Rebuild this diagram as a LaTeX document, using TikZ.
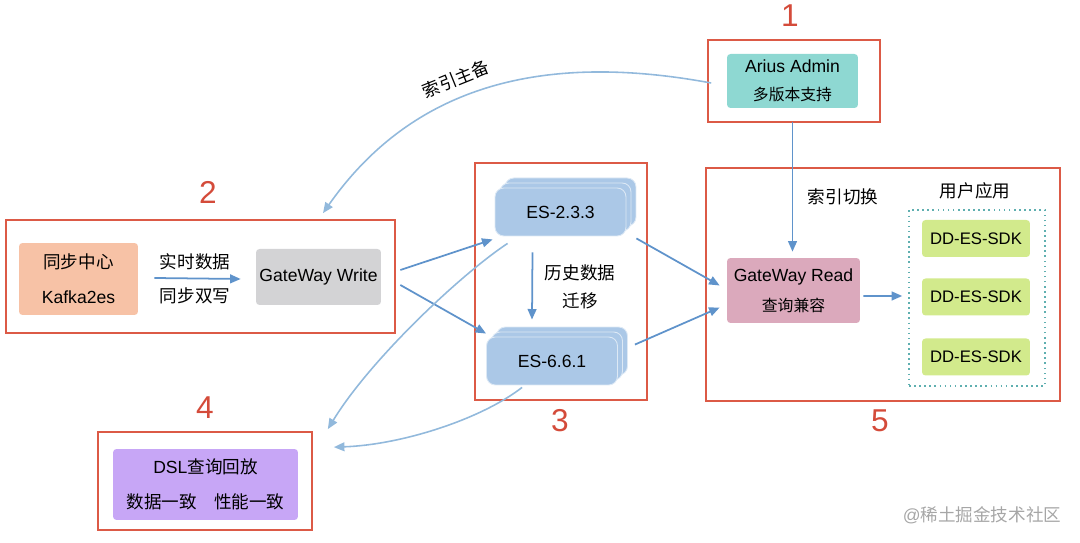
\documentclass[tikz,border=0pt]{standalone}
\usepackage{fontspec}
\setmainfont{Liberation Sans}
\newfontfamily\cjk{Noto Sans CJK SC}
\usetikzlibrary{arrows.meta,shadows}

\definecolor{framered}{HTML}{DC5A46}
\definecolor{numred}{HTML}{D44B3A}
\definecolor{tealbox}{HTML}{8ED8D2}
\definecolor{orangebox}{HTML}{F7C2A6}
\definecolor{graybox}{HTML}{D3D3D5}
\definecolor{esblue}{HTML}{ABC8E7}
\definecolor{pinkbox}{HTML}{DBA9BC}
\definecolor{greenbox}{HTML}{D2EA8C}
\definecolor{purplebox}{HTML}{C7A6F6}
\definecolor{arrowblue}{HTML}{5F93CB}
\definecolor{curveblue}{HTML}{92B9DC}
\definecolor{dotteal}{HTML}{5FAFB0}

\begin{document}
\begin{tikzpicture}[
  x=0.02cm, y=-0.02cm,
  every node/.style={font=\fontsize{10}{12}\selectfont, inner sep=0pt},
  frame/.style={draw=framered, line width=1pt},
  num/.style={text=numred, font=\fontsize{18}{20}\selectfont},
  box/.style={rounded corners=2pt, align=center},
  esnode/.style={fill=esblue, draw=white!60!esblue, line width=0.5pt, rounded corners=5pt,
    minimum width=2.62cm, minimum height=0.96cm,
    double copy shadow={shadow xshift=0.1cm, shadow yshift=0.1cm}},
  sdk/.style={box, fill=greenbox, minimum width=2.16cm, minimum height=0.74cm,
    font=\fontsize{9.5}{11}\selectfont},
  arr/.style={draw=arrowblue, line width=1pt, -{Triangle[length=6pt,width=5pt]}},
  curve/.style={draw=curveblue, line width=0.9pt, -{Triangle[length=6pt,width=5pt]}}
]
\useasboundingbox (0,0) rectangle (1080,543);

% Frames and their numbers
\node[frame, minimum width=3.44cm, minimum height=1.64cm] (f1) at (794,81) {};
\node[frame, minimum width=7.78cm, minimum height=2.26cm] (f2) at (200.5,276.5) {};
\node[frame, minimum width=3.44cm, minimum height=4.74cm] (f3) at (561,281.5) {};
\node[frame, minimum width=4.28cm, minimum height=1.96cm] (f4) at (205,481) {};
\node[frame, minimum width=7.08cm, minimum height=4.66cm] (f5) at (883,284.5) {};

\node[num] (n1) at (790,16) {1};
\node[num] (n2) at (208,192) {2};
\node[num] (n3) at (560,421) {3};
\node[num] (n4) at (205,408) {4};
\node[num] (n5) at (880,421) {5};

% 1: admin
\node[box, fill=tealbox, minimum width=2.62cm, minimum height=1.08cm] (admin) at (792.5,81)
  {Arius Admin\\[4pt]{\cjk\small 多版本支持}};

% 2: write side
\node[box, fill=orangebox, minimum width=2.38cm, minimum height=1.44cm] (kafka) at (78.5,279)
  {{\cjk 同步中心}\\[8pt]Kafka2es};
\node[box, fill=graybox, minimum width=2.5cm, minimum height=1.12cm] (gwwrite) at (318.5,277)
  {GateWay Write};
\node (rt) at (195,262) {\cjk 实时数据};
\node (dw) at (195,296) {\cjk 同步双写};
\draw[arr] ([shift={(16,-1)}]kafka.east) -- ([shift={(-15,2)}]gwwrite.west);

% 3: ES clusters
\node[esnode] (es2) at (560.5,212) {ES-2.3.3};
\node[esnode] (es6) at (552,361) {ES-6.6.1};
\node[align=center] (mig) at (580,287) {{\cjk 历史数据}\\[4pt]{\cjk 迁移}};
\draw[arr] ([shift={(-28,16)}]es2.south) -- ([shift={(-20,-17)}]es6.north);

% 5: read side
\node (swap) at (843,197) {\cjk 索引切换};
\node (app) at (975,191) {\cjk 用户应用};
\node[box, fill=pinkbox, minimum width=2.66cm, minimum height=1.3cm] (gwread) at (793.5,290.5)
  {GateWay Read\\[5pt]{\cjk\small 查询兼容}};
\node[draw=dotteal, dotted, line width=0.9pt, minimum width=2.72cm, minimum height=3.52cm] (apps) at (977,298) {};
\node[sdk] (sdk1) at (976,238.5) {DD-ES-SDK};
\node[sdk] (sdk2) at (976,297) {DD-ES-SDK};
\node[sdk] (sdk3) at (976,357) {DD-ES-SDK};

% 4: replay
\node[box, fill=purplebox, minimum width=3.7cm, minimum height=1.42cm] (dsl) at (205.5,484.5)
  {DSL{\cjk 查询回放}\\[8pt]{\cjk 数据一致\quad 性能一致}};

% connectors
\draw[arr] ([shift={(19,-7)}]gwwrite.east) -- ([shift={(-2,3)}]es2.south west);
\draw[arr] ([shift={(19,8)}]gwwrite.east) -- ([shift={(0,-3)}]es6.north west);
\draw[arr] ([shift={(10,2)}]es2.south east) -- ([shift={(-7,-5)}]gwread.west);
\draw[arr] ([shift={(17,8)}]es6.north east) -- ([shift={(-7,17)}]gwread.west);
\draw[arr] ([shift={(0,14)}]admin.south) -- ([shift={(-1,-6)}]gwread.north);
\draw[arr] ([shift={(3,5.5)}]gwread.east) -- ([shift={(-6,-2)}]apps.west);

% curved ones
\draw[curve] ([shift={(4,2)}]f1.west) .. controls (560,55) and (420,75) .. ([shift={(122.5,-6)}]f2.north);
\node[rotate=22] (ms) at (456,79) {\cjk 索引主备};
\draw[curve] ([shift={(13,7)}]es2.south west) .. controls (460,275) and (370,360) .. ([shift={(15,-2)}]f4.north east);
\draw[curve] ([shift={(36,2)}]es6.south west) .. controls (480,420) and (400,445) .. ([shift={(21,16)}]f4.north east);

% watermark
\node[text=gray!70] (wm) at (982,515) {@{\cjk 稀土掘金技术社区}};

\end{tikzpicture}
\end{document}
